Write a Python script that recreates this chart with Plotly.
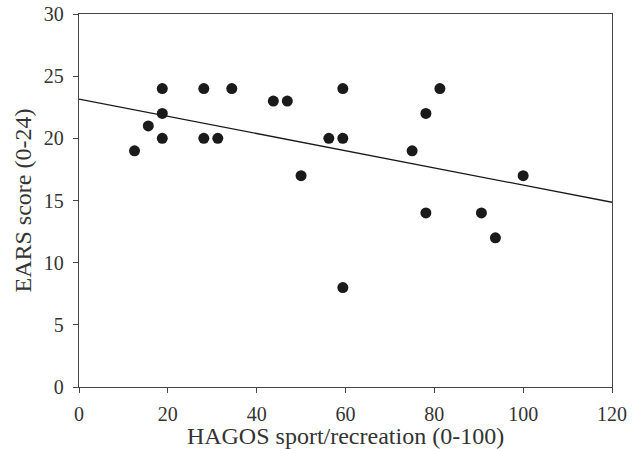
import plotly.graph_objects as go

hagos = [12.5, 15.6, 18.75, 18.75, 18.75, 28.1, 28.1, 31.25, 34.4, 43.75, 46.9, 50.0,
         56.25, 59.4, 59.4, 59.4, 75.0, 78.1, 78.1, 81.25, 90.6, 93.75, 100.0]
ears = [19, 21, 24, 22, 20, 24, 20, 20, 24, 23, 23, 17,
        20, 24, 20, 8, 19, 22, 14, 24, 14, 12, 17]
x_ticks = [0, 20, 40, 60, 80, 100, 120]
y_ticks = [0, 5, 10, 15, 20, 25, 30]
fit_intercept = 23.15
fit_slope = -0.0691

line_x = [0, 120]
line_y = [fit_intercept + fit_slope * v for v in line_x]

font = "Liberation Serif"
fig = go.Figure()
fig.add_trace(go.Scatter(x=line_x, y=line_y, mode="lines",
                         line=dict(color="#1a1a1a", width=1.3), showlegend=False))
fig.add_trace(go.Scatter(x=hagos, y=ears, mode="markers",
                         marker=dict(color="#1a1a1a", size=11), showlegend=False))
fig.update_layout(
    width=640, height=449, margin=dict(l=79, r=28, t=14, b=62),
    plot_bgcolor="white", paper_bgcolor="white",
    font=dict(family=font, color="#333", size=20),
)
fig.update_xaxes(range=[0, 120], tickvals=x_ticks, showgrid=False, zeroline=False,
                 showline=True, linecolor="#444", linewidth=1.4, mirror=True,
                 ticks="outside", ticklen=5, tickcolor="#444", ticklabelstandoff=4,
                 automargin=False,
                 title=dict(text="HAGOS sport/recreation (0-100)", standoff=2),
                 tickfont=dict(size=20))
fig.update_yaxes(range=[0, 30], tickvals=y_ticks, showgrid=False, zeroline=False,
                 showline=True, linecolor="#444", linewidth=1.4, mirror=True,
                 ticks="outside", ticklen=5, tickcolor="#444", ticklabelstandoff=5,
                 automargin=False,
                 title=dict(text="EARS score (0-24)", standoff=5),
                 tickfont=dict(size=20))
fig.write_html("out.html")
